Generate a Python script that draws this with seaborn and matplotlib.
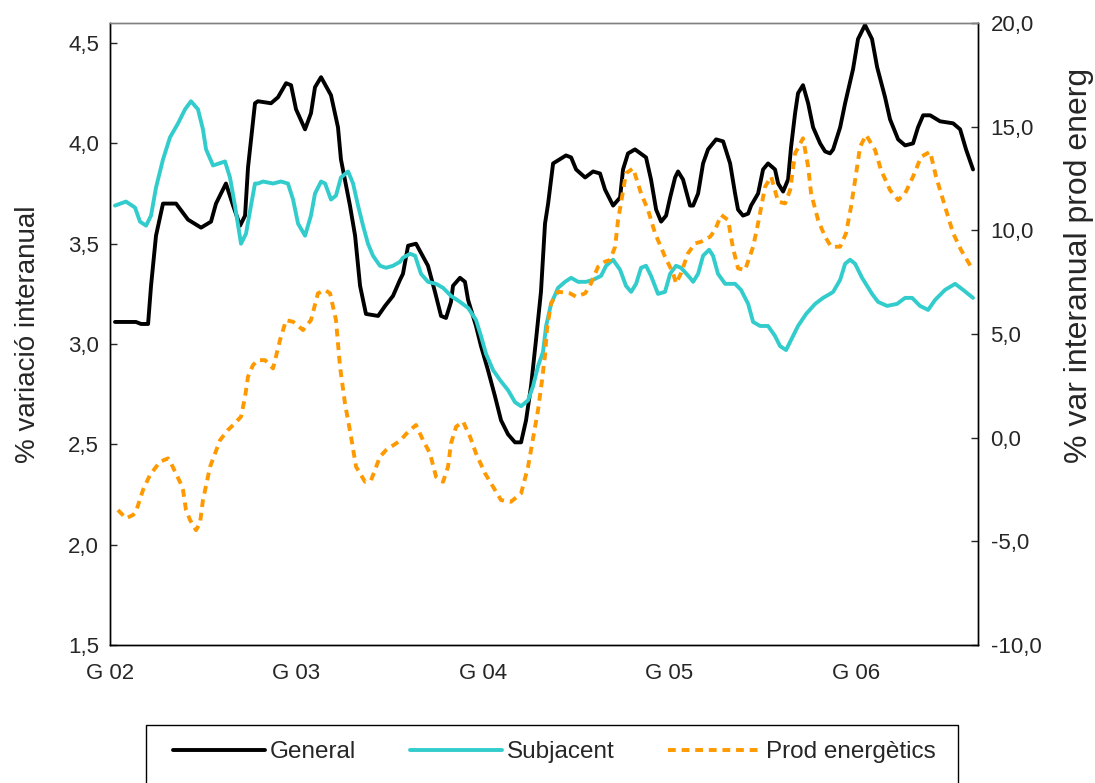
import numpy as np
import pandas as pd
import seaborn as sns
import matplotlib.pyplot as plt
from matplotlib.patches import Rectangle
from matplotlib.ticker import FuncFormatter, FixedLocator

sns.set_theme(style="white")
plt.rcParams['font.family'] = ['Liberation Sans', 'DejaVu Sans']

# months counted from January 2002 (G 02 = 0)
tick_pos = [0, 12, 24, 36, 48]
tick_labels = ['G 02', 'G 03', 'G 04', 'G 05', 'G 06']

general_m = [0.32, 1.67, 2.0, 2.45, 2.64, 2.96, 3.41, 4.25, 5.02, 5.86, 6.50, 6.82, 7.46, 7.92,
             8.37, 8.69, 8.88, 9.33, 9.52, 10.36, 10.81, 11.33, 11.65, 11.97, 12.55, 12.93,
             13.19, 13.58, 14.22, 14.67, 14.86, 15.44, 15.77, 16.09, 16.47, 17.25, 17.70,
             18.21, 18.66, 18.85, 19.18, 19.69, 20.46, 20.91, 21.30, 21.62, 21.94, 22.07,
             22.52, 22.84, 23.04, 23.55, 23.87, 24.32, 24.77, 25.16, 25.61, 26.06, 26.45,
             26.77, 27.09, 27.41, 27.73, 27.99, 28.19, 28.51, 29.34, 29.67, 29.99, 30.57,
             31.08, 31.53, 31.85, 32.37, 32.82, 33.01, 33.33, 33.78, 34.49, 34.81, 35.14,
             35.46, 35.78, 36.04, 36.36, 36.55, 36.87, 37.32, 37.52, 37.84, 38.16, 38.48,
             39.00, 39.45, 39.90, 40.22, 40.41, 40.73, 41.06, 41.25, 41.70, 42.02, 42.34,
             42.79, 42.99, 43.31, 43.63, 43.82, 44.08, 44.27, 44.59, 44.92, 45.24, 45.69,
             46.01, 46.33, 46.53, 46.98, 47.30, 47.81, 48.13, 48.58, 49.03, 49.36, 49.87,
             50.19, 50.71, 51.16, 51.67, 51.99, 52.32, 52.77, 53.41, 54.25, 54.70, 55.08, 55.53]
general_v = [3.11, 3.11, 3.10, 3.10, 3.29, 3.54, 3.70, 3.70, 3.62, 3.58, 3.61, 3.70, 3.80, 3.69,
             3.59, 3.64, 3.88, 4.20, 4.21, 4.20, 4.23, 4.30, 4.29, 4.17, 4.07, 4.15,
             4.28, 4.33, 4.24, 4.08, 3.92, 3.69, 3.54, 3.29, 3.15, 3.14, 3.19,
             3.24, 3.32, 3.35, 3.49, 3.50, 3.39, 3.26, 3.14, 3.13, 3.21, 3.29,
             3.33, 3.31, 3.22, 3.09, 2.99, 2.87, 2.74, 2.62, 2.55, 2.51, 2.51,
             2.62, 2.79, 3.02, 3.26, 3.60, 3.70, 3.90, 3.94, 3.93, 3.87, 3.83,
             3.86, 3.85, 3.77, 3.69, 3.73, 3.87, 3.95, 3.97, 3.93, 3.82, 3.67,
             3.61, 3.64, 3.73, 3.83, 3.86, 3.82, 3.69, 3.69, 3.75, 3.90, 3.97,
             4.02, 4.01, 3.90, 3.75, 3.67, 3.64, 3.65, 3.69, 3.75, 3.87, 3.90,
             3.87, 3.80, 3.76, 3.82, 3.98, 4.15, 4.25, 4.29, 4.20, 4.08, 4.00,
             3.96, 3.95, 3.97, 4.08, 4.20, 4.37, 4.52, 4.59, 4.52, 4.38, 4.23,
             4.12, 4.02, 3.99, 4.00, 4.08, 4.14, 4.14, 4.11, 4.10, 4.07, 3.97, 3.87]

subj_m = [0.32, 1.03, 1.61, 1.93, 2.32, 2.64, 2.96, 3.41, 3.86, 4.38, 4.83, 5.21, 5.66, 5.98,
          6.18, 6.63, 7.40, 7.72, 8.04, 8.43, 8.75, 9.07, 9.33, 9.52, 9.85, 10.49, 11.00,
          11.45, 11.78, 12.10, 12.55, 12.93, 13.19, 13.58, 13.84, 14.22, 14.54, 14.86,
          15.32, 15.64, 15.96, 16.28, 16.60, 16.92, 17.37, 17.76, 18.21, 18.66, 18.85,
          19.31, 19.63, 20.01, 20.46, 20.98, 21.43, 21.94, 22.52, 23.04, 23.55, 23.87,
          24.20, 24.65, 25.10, 25.61, 26.06, 26.45, 26.90, 27.22, 27.54, 27.86, 28.06,
          28.38, 28.83, 29.28, 29.67, 30.12, 30.63, 31.08, 31.60, 31.92, 32.37, 32.82,
          33.20, 33.53, 33.85, 34.17, 34.49, 34.81, 35.26, 35.71, 36.04, 36.42, 36.74,
          37.32, 37.52, 37.84, 38.16, 38.55, 38.80, 39.12, 39.58, 40.22, 40.60, 41.06,
          41.38, 41.83, 42.34, 42.79, 43.11, 43.50, 43.82, 44.27, 44.79, 45.37, 45.88,
          46.33, 46.53, 46.98, 47.30, 47.62, 47.94, 48.39, 49.03, 49.42, 50.00, 50.64,
          51.16, 51.61, 52.12, 52.64, 53.09, 53.73, 54.38, 54.89, 55.53]
subj_v = [3.69, 3.71, 3.68, 3.61, 3.59, 3.64, 3.78, 3.92, 4.03, 4.10, 4.17, 4.21, 4.17, 4.07,
          3.97, 3.89, 3.91, 3.83, 3.69, 3.50, 3.55, 3.69, 3.80, 3.80, 3.81, 3.80, 3.81,
          3.80, 3.72, 3.60, 3.54, 3.64, 3.75, 3.81, 3.80, 3.72, 3.74, 3.83,
          3.86, 3.80, 3.69, 3.59, 3.50, 3.44, 3.39, 3.38, 3.39, 3.41, 3.43,
          3.45, 3.44, 3.35, 3.31, 3.30, 3.28, 3.24, 3.21, 3.18, 3.12, 3.04,
          2.95, 2.87, 2.82, 2.77, 2.71, 2.69, 2.72, 2.79, 2.89, 2.96, 3.09,
          3.20, 3.28, 3.31, 3.33, 3.31, 3.31, 3.32, 3.34, 3.39, 3.42, 3.37,
          3.29, 3.26, 3.30, 3.38, 3.39, 3.34, 3.25, 3.26, 3.35, 3.39, 3.38,
          3.33, 3.31, 3.35, 3.44, 3.47, 3.44, 3.35, 3.30, 3.30, 3.27, 3.20,
          3.11, 3.09, 3.09, 3.04, 2.99, 2.97, 3.02, 3.09, 3.15, 3.20, 3.23,
          3.25, 3.26, 3.32, 3.40, 3.42, 3.40, 3.33, 3.25, 3.21, 3.19, 3.20,
          3.23, 3.23, 3.19, 3.17, 3.22, 3.27, 3.30, 3.27, 3.23]

energ_m = [0.51, 1.03, 1.48, 1.67, 2.12, 2.57, 3.22, 3.73, 3.93, 4.50, 4.70, 4.89, 5.15, 5.53,
           5.79, 5.98, 6.44, 7.08, 7.59, 7.92, 8.43, 8.69, 8.88, 9.20, 9.52, 9.97, 10.49,
           10.94, 11.33, 11.78, 12.42, 12.93, 13.38, 13.84, 14.16, 14.54, 14.80, 15.12,
           15.51, 15.83, 16.41, 16.80, 17.37, 17.76, 18.66, 19.18, 19.69, 20.14, 20.59,
           20.98, 21.43, 21.75, 21.94, 22.27, 22.72, 23.17, 23.55, 24.13, 24.65, 25.16,
           25.80, 26.45, 26.90, 27.22, 27.54, 27.80, 27.99, 28.12, 28.38, 28.83, 29.60,
           29.99, 30.57, 30.95, 31.40, 31.85, 32.18, 32.50, 32.69, 32.95, 33.20, 33.66,
           34.17, 34.62, 35.07, 35.71, 36.23, 36.42, 36.74, 37.19, 37.64, 38.03, 38.61,
           38.93, 39.32, 39.77, 40.09, 40.41, 40.86, 41.38, 41.70, 42.15, 42.54, 42.99,
           43.44, 43.76, 44.08, 44.59, 44.92, 45.11, 45.56, 46.01, 46.40, 46.98, 47.36,
           47.68, 48.01, 48.26, 48.65, 49.23, 49.61, 50.19, 50.71, 51.16, 51.67, 52.19,
           52.77, 53.15, 53.73, 54.25, 54.76, 55.53]
energ_v = [-3.49, -3.89, -3.73, -3.57, -2.53, -1.80, -1.16, -1.00, -1.24, -2.13, -2.53, -3.49,
           -3.97, -4.46, -4.13, -3.01, -1.40, -0.12, 0.37, 0.61, 1.01, 1.97, 2.94, 3.50, 3.74,
           3.74, 3.34, 4.71, 5.67, 5.59, 5.19, 5.67, 6.96, 7.12, 6.96, 5.67, 3.42, 1.65,
           0.04, -1.40, -2.13, -2.05, -0.92, -0.60, -0.15, 0.28, 0.61, -0.12, -0.76,
           -1.89, -2.13, -1.40, -0.28, 0.53, 0.77, 0.04, -0.76, -1.72, -2.37, -3.01,
           -3.09, -2.69, -1.40, -0.03, 1.33, 2.78, 3.98, 5.27, 6.48, 7.04, 6.96,
           6.80, 6.96, 7.44, 8.24, 8.49, 8.57, 9.21, 10.50, 11.62, 12.75, 12.99,
           11.78, 10.98, 9.86, 8.73, 7.93, 7.44, 7.93, 8.89, 9.37, 9.45, 9.69,
           10.01, 10.74, 10.50, 9.13, 8.17, 8.08, 9.21, 10.34, 12.10, 12.59, 11.38,
           11.30, 11.94, 13.71, 14.44, 13.07, 11.78, 10.50, 9.69, 9.21, 9.21, 9.86,
           11.14, 12.75, 14.03, 14.60, 13.87, 12.91, 11.94, 11.46, 11.78, 12.59, 13.55,
           13.79, 12.59, 11.14, 9.86, 9.05, 8.08]

general = pd.DataFrame({'mes': general_m, 'valor': general_v})
subj = pd.DataFrame({'mes': subj_m, 'valor': subj_v})
energ = pd.DataFrame({'mes': energ_m, 'valor': energ_v})

W, H = 1095, 783
fig = plt.figure(figsize=(W / 100, H / 100), dpi=100)
ax = fig.add_axes([110 / W, 1 - 645 / H, (978 - 110) / W, (645 - 23) / H])
ax2 = ax.twinx()

sns.lineplot(data=general, x='mes', y='valor', sort=False, estimator=None, ax=ax,
             color='black', linewidth=2.8, label='General', legend=False)
sns.lineplot(data=subj, x='mes', y='valor', sort=False, estimator=None, ax=ax,
             color='#33CCCC', linewidth=2.8, label='Subjacent', legend=False)
sns.lineplot(data=energ, x='mes', y='valor', sort=False, estimator=None, ax=ax2,
             color='#FF9900', linewidth=2.8, label='Prod energètics', legend=False)
ax2.lines[0].set_dashes([2.0, 1.5])

ax.set_xlim(0, 55.85)
ax.set_ylim(1.5, 4.6)
ax2.set_ylim(-10, 20)

comma = FuncFormatter(lambda v, p: f'{v:.1f}'.replace('.', ','))
ax.yaxis.set_major_locator(FixedLocator([1.5, 2.0, 2.5, 3.0, 3.5, 4.0, 4.5]))
ax.yaxis.set_major_formatter(comma)
ax2.yaxis.set_major_locator(FixedLocator([-10, -5, 0, 5, 10, 15, 20]))
ax2.yaxis.set_major_formatter(comma)
ax.set_xticks(tick_pos)
ax.set_xticklabels(tick_labels)

ax.tick_params(axis='y', direction='in', length=5, width=1, labelsize=16, pad=8, left=True)
ax.tick_params(axis='x', direction='out', length=0, labelsize=16, pad=13)
ax2.tick_params(axis='y', direction='in', length=5, width=1, labelsize=16, pad=9, right=True)

for a in (ax, ax2):
    for s in a.spines.values():
        s.set_color('black')
        s.set_linewidth(1)
    a.spines['top'].set_color('#808080')
    a.grid(False)

ax.set_xlabel('')
ax.set_ylabel('% variació interanual', fontsize=20)
ax.yaxis.set_label_coords(-0.079, 0.5)
ax2.set_ylabel('% var interanual prod energ', fontsize=23, rotation=90)
ax2.yaxis.set_label_coords(1.099, 0.61)

# legend box runs past the bottom edge of the picture
fig.patches.append(Rectangle((146 / W, -0.02), (958 - 146) / W, 0.02 + 1 - 725 / H,
                             transform=fig.transFigure, facecolor='white',
                             edgecolor='black', linewidth=1))
handles = ax.lines[:2] + ax2.lines[:1]
leg = fig.legend(handles, ['General', 'Subjacent', 'Prod energètics'], ncol=3,
                 loc='center left', bbox_to_anchor=(173 / W, 1 - 752 / H),
                 fontsize=17.5, frameon=False,
                 handlelength=3.8, handletextpad=0.2, columnspacing=2.2,
                 borderpad=0, borderaxespad=0)

fig.savefig('out.png', dpi=100)
